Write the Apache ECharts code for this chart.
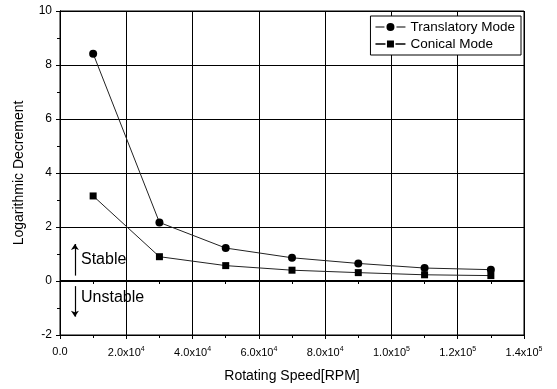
<!DOCTYPE html>
<html><head><meta charset="utf-8">
<script src="https://cdn.jsdelivr.net/npm/echarts@6/dist/echarts.min.js"></script>
<style>html,body{margin:0;padding:0;background:#fff}#c{width:557px;height:389px}</style>
</head><body><div id="c"></div>
<script>
const speeds = [10000, 30000, 50000, 70000, 90000, 110000, 130000];
const translatory = [8.42, 2.17, 1.22, 0.86, 0.65, 0.48, 0.42];
const conical = [3.15, 0.90, 0.57, 0.40, 0.31, 0.23, 0.20];
const xTickLabels = {0:'0.0', 20000:'2.0x10{s|4}', 40000:'4.0x10{s|4}', 60000:'6.0x10{s|4}', 80000:'8.0x10{s|4}', 100000:'1.0x10{s|5}', 120000:'1.2x10{s|5}', 140000:'1.4x10{s|5}'};

const chart = echarts.init(document.getElementById('c'));
const font = 'Liberation Sans, Arial, sans-serif';
const iconCircle = 'path://M0,4.5H9V5.5H0Z M11,5a4,4 0 1,0 8,0a4,4 0 1,0 -8,0Z M21,4.5H30V5.5H21Z';
const iconRect = 'path://M0,4.3H10V5.7H0Z M11.5,1.5H18.5V8.5H11.5Z M20,4.3H30V5.7H20Z';
chart.setOption({
  animation:false,
  grid:{left:60,right:33,top:11,bottom:54,show:true,borderColor:'#000',borderWidth:1},
  legend:{
    right:36, top:16, orient:'vertical', itemGap:3, itemWidth:30, itemHeight:10,
    backgroundColor:'#fff', borderColor:'#000', borderWidth:1, padding:[4,6,4,5],
    textStyle:{fontFamily:font,fontSize:13.5,color:'#000'},
    data:[{name:'Translatory Mode',icon:iconCircle},{name:'Conical Mode',icon:iconRect}]
  },
  xAxis:[{
    type:'value', min:0, max:140000, interval:20000,
    name:'Rotating Speed[RPM]', nameLocation:'middle', nameGap:34,
    nameTextStyle:{fontFamily:font,fontSize:14,color:'#000'},
    axisLine:{onZero:false,lineStyle:{color:'#000'}},
    axisTick:{inside:false,length:4,lineStyle:{color:'#000'}},
    minorTick:{show:true,splitNumber:2,length:3,lineStyle:{color:'#000'}},
    splitLine:{show:true,lineStyle:{color:'#000',width:1}},
    axisLabel:{fontFamily:font,fontSize:11,color:'#000',margin:11,
      formatter:v=>xTickLabels[v]||'',
      rich:{s:{fontSize:7,verticalAlign:'top',padding:[0,0,6,0],fontFamily:font}}}
  },{
    type:'value', position:'top', min:0, max:140000, interval:20000,
    axisLine:{show:true,lineStyle:{color:'#000'}},
    axisTick:{inside:true,length:4,lineStyle:{color:'#000'}},
    minorTick:{show:true,splitNumber:2,length:3,lineStyle:{color:'#000'}},
    axisLabel:{show:false}, splitLine:{show:false}
  }],
  yAxis:[{
    type:'value', min:-2, max:10, interval:2,
    name:'Logarithmic Decrement', nameLocation:'middle', nameGap:34,
    nameTextStyle:{fontFamily:font,fontSize:14,color:'#000'},
    axisLine:{show:true,onZero:false,lineStyle:{color:'#000'}},
    axisTick:{show:true,inside:false,length:4,lineStyle:{color:'#000'}},
    minorTick:{show:true,splitNumber:2,length:3,lineStyle:{color:'#000'}},
    splitLine:{show:true,lineStyle:{color:'#000',width:1}},
    axisLabel:{fontFamily:font,fontSize:12,color:'#000',margin:8}
  },{
    type:'value', position:'right', min:-2, max:10, interval:2,
    axisLine:{show:true,lineStyle:{color:'#000'}},
    axisTick:{show:true,inside:true,length:4,lineStyle:{color:'#000'}},
    minorTick:{show:true,splitNumber:2,length:3,lineStyle:{color:'#000'}},
    axisLabel:{show:false}, splitLine:{show:false}
  }],
  series:[{
    name:'Translatory Mode', type:'line', symbol:'circle', symbolSize:8,
    data:speeds.map((x,i)=>[x,translatory[i]]),
    itemStyle:{color:'#000'}, lineStyle:{color:'#222',width:1},
    markLine:{silent:true,symbol:'none',label:{show:false},
      lineStyle:{color:'#000',width:2,type:'solid'},data:[{yAxis:0}]}
  },{
    name:'Conical Mode', type:'line', symbol:'rect', symbolSize:7,
    data:speeds.map((x,i)=>[x,conical[i]]),
    itemStyle:{color:'#000'}, lineStyle:{color:'#222',width:1},
    markLine:{silent:true,symbol:['none','arrow'],symbolSize:6,label:{show:false},
      lineStyle:{color:'#000',width:1.2,type:'solid'},
      data:[
        [{coord:[4500,0.2]},{coord:[4500,1.37]}],
        [{coord:[4500,-0.19]},{coord:[4500,-1.32]}]
      ]}
  }],
  graphic:[
    {type:'text',left:81,top:252,style:{text:'Stable',fontFamily:font,fontSize:16,fill:'#000'}},
    {type:'text',left:81,top:290,style:{text:'Unstable',fontFamily:font,fontSize:16,fill:'#000'}}
  ]
});
</script></body></html>
